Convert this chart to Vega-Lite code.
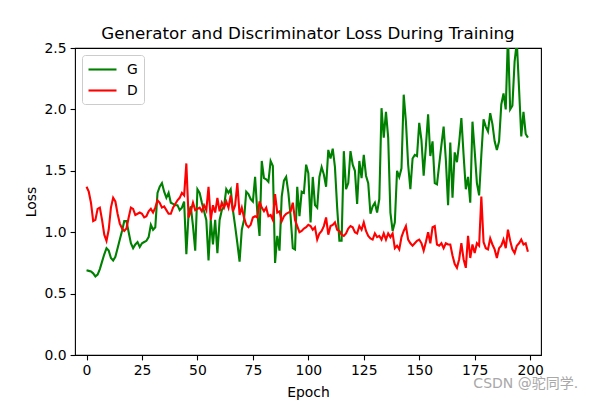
{
  "$schema": "https://vega.github.io/schema/vega-lite/v6.json",
  "autosize": {"type": "none"},
  "width": 466,
  "height": 307,
  "padding": {"left": 75, "top": 48, "right": 59, "bottom": 45},
  "background": "white",
  "title": {"text": "Generator and Discriminator Loss During Training", "font": "DejaVu Sans", "fontSize": 16.7, "fontWeight": "normal", "color": "black", "anchor": "middle", "offset": -2},
  "config": {
    "view": {"stroke": "black", "strokeWidth": 1.1},
    "axis": {"grid": false, "domain": false, "tickColor": "black", "tickSize": 4.9, "tickWidth": 1.1, "labelFont": "DejaVu Sans", "labelFontSize": 13.9, "labelColor": "black", "labelPadding": 4, "titleFont": "DejaVu Sans", "titleFontSize": 13.9, "titleFontWeight": "normal", "titleColor": "black"},
    "legend": {"orient": "top-left", "offset": 7, "padding": 6, "strokeColor": "#cccccc", "fillColor": "rgba(255,255,255,0.8)", "cornerRadius": 3, "symbolType": "M-2,0H2", "symbolSize": 196, "symbolOffset": 6, "symbolStrokeWidth": 2.1, "labelFont": "DejaVu Sans", "labelFontSize": 13.9, "labelColor": "black", "labelOffset": 16, "rowPadding": 5, "title": null}
  },
  "datasets": {"loss": [
{"epoch":0,"G":0.69,"D":1.37},{"epoch":1,"G":0.685,"D":1.33},{"epoch":2,"G":0.68,"D":1.24},{"epoch":3,"G":0.665,"D":1.09},{"epoch":4,"G":0.64,"D":1.10},
{"epoch":5,"G":0.655,"D":1.19},{"epoch":6,"G":0.70,"D":1.20},{"epoch":7,"G":0.76,"D":1.10},{"epoch":8,"G":0.82,"D":0.98},{"epoch":9,"G":0.87,"D":0.93},
{"epoch":10,"G":0.85,"D":1.02},{"epoch":11,"G":0.79,"D":1.20},{"epoch":12,"G":0.77,"D":1.28},{"epoch":13,"G":0.80,"D":1.25},{"epoch":14,"G":0.87,"D":1.15},
{"epoch":15,"G":0.94,"D":1.07},{"epoch":16,"G":1.01,"D":1.03},{"epoch":17,"G":1.09,"D":1.01},{"epoch":18,"G":1.09,"D":1.03},{"epoch":19,"G":1.00,"D":1.12},
{"epoch":20,"G":0.91,"D":1.20},{"epoch":21,"G":0.87,"D":1.19},{"epoch":22,"G":0.90,"D":1.14},{"epoch":23,"G":0.92,"D":1.15},{"epoch":24,"G":0.88,"D":1.16},
{"epoch":25,"G":0.91,"D":1.15},{"epoch":26,"G":0.92,"D":1.12},{"epoch":27,"G":0.93,"D":1.13},{"epoch":28,"G":0.96,"D":1.17},{"epoch":29,"G":1.06,"D":1.19},
{"epoch":30,"G":1.02,"D":1.16},{"epoch":31,"G":1.04,"D":1.20},{"epoch":32,"G":1.32,"D":1.26},{"epoch":33,"G":1.37,"D":1.24},{"epoch":34,"G":1.40,"D":1.20},
{"epoch":35,"G":1.33,"D":1.21},{"epoch":36,"G":1.28,"D":1.18},{"epoch":37,"G":1.32,"D":1.15},{"epoch":38,"G":1.24,"D":1.15},{"epoch":39,"G":1.23,"D":1.20},
{"epoch":40,"G":1.22,"D":1.23},{"epoch":41,"G":1.22,"D":1.26},{"epoch":42,"G":1.18,"D":1.28},{"epoch":43,"G":1.20,"D":1.32},{"epoch":44,"G":1.25,"D":1.30},
{"epoch":45,"G":0.82,"D":1.56},{"epoch":46,"G":1.15,"D":1.12},{"epoch":47,"G":1.21,"D":1.17},{"epoch":48,"G":1.05,"D":1.24},{"epoch":49,"G":0.85,"D":1.18},
{"epoch":50,"G":1.35,"D":1.19},{"epoch":51,"G":1.32,"D":1.20},{"epoch":52,"G":1.24,"D":1.17},{"epoch":53,"G":1.17,"D":1.22},{"epoch":54,"G":1.10,"D":1.18},
{"epoch":55,"G":0.77,"D":1.37},{"epoch":56,"G":1.10,"D":1.10},{"epoch":57,"G":0.90,"D":1.22},{"epoch":58,"G":1.10,"D":1.16},{"epoch":59,"G":0.83,"D":1.28},
{"epoch":60,"G":1.10,"D":1.17},{"epoch":61,"G":1.18,"D":1.24},{"epoch":62,"G":1.21,"D":1.20},{"epoch":63,"G":1.35,"D":1.25},{"epoch":64,"G":1.32,"D":1.20},
{"epoch":65,"G":1.35,"D":1.30},{"epoch":66,"G":1.18,"D":1.17},{"epoch":67,"G":1.05,"D":1.22},{"epoch":68,"G":0.91,"D":1.40},{"epoch":69,"G":0.76,"D":1.14},
{"epoch":70,"G":1.02,"D":1.20},{"epoch":71,"G":1.10,"D":1.12},{"epoch":72,"G":1.33,"D":1.06},{"epoch":73,"G":1.31,"D":1.04},{"epoch":74,"G":1.27,"D":1.06},
{"epoch":75,"G":1.25,"D":1.12},{"epoch":76,"G":1.45,"D":1.13},{"epoch":77,"G":1.16,"D":1.12},{"epoch":78,"G":0.97,"D":1.25},{"epoch":79,"G":1.58,"D":1.20},
{"epoch":80,"G":1.44,"D":1.17},{"epoch":81,"G":1.43,"D":1.20},{"epoch":82,"G":1.41,"D":1.13},{"epoch":83,"G":1.58,"D":1.14},{"epoch":84,"G":1.54,"D":1.10},
{"epoch":85,"G":0.75,"D":1.31},{"epoch":86,"G":0.97,"D":1.16},{"epoch":87,"G":0.85,"D":1.17},{"epoch":88,"G":1.29,"D":1.09},{"epoch":89,"G":1.42,"D":1.13},
{"epoch":90,"G":1.45,"D":1.15},{"epoch":91,"G":1.32,"D":1.16},{"epoch":92,"G":1.13,"D":1.17},{"epoch":93,"G":0.87,"D":1.24},{"epoch":94,"G":0.86,"D":1.10},
{"epoch":95,"G":1.37,"D":1.05},{"epoch":96,"G":1.13,"D":1.00},{"epoch":97,"G":1.33,"D":1.01},{"epoch":98,"G":1.32,"D":1.03},{"epoch":99,"G":1.55,"D":1.04},
{"epoch":100,"G":1.48,"D":1.06},{"epoch":101,"G":1.08,"D":1.05},{"epoch":102,"G":1.45,"D":1.02},{"epoch":103,"G":1.22,"D":1.04},{"epoch":104,"G":1.20,"D":0.94},
{"epoch":105,"G":1.45,"D":0.99},{"epoch":106,"G":1.53,"D":1.01},{"epoch":107,"G":1.47,"D":1.05},{"epoch":108,"G":1.37,"D":1.12},{"epoch":109,"G":1.67,"D":0.98},
{"epoch":110,"G":1.60,"D":1.05},{"epoch":111,"G":1.68,"D":1.06},{"epoch":112,"G":1.53,"D":1.08},{"epoch":113,"G":1.20,"D":1.02},{"epoch":114,"G":0.93,"D":1.01},
{"epoch":115,"G":0.93,"D":0.98},{"epoch":116,"G":1.66,"D":0.97},{"epoch":117,"G":1.35,"D":0.99},{"epoch":118,"G":1.40,"D":1.03},{"epoch":119,"G":1.66,"D":1.05},
{"epoch":120,"G":1.55,"D":1.04},{"epoch":121,"G":1.50,"D":1.00},{"epoch":122,"G":1.23,"D":0.99},{"epoch":123,"G":1.58,"D":1.05},{"epoch":124,"G":1.44,"D":1.02},
{"epoch":125,"G":1.63,"D":1.08},{"epoch":126,"G":1.46,"D":1.01},{"epoch":127,"G":1.40,"D":0.97},{"epoch":128,"G":1.15,"D":0.95},{"epoch":129,"G":1.21,"D":0.94},
{"epoch":130,"G":1.24,"D":0.99},{"epoch":131,"G":1.16,"D":0.96},{"epoch":132,"G":1.27,"D":0.97},{"epoch":133,"G":2.01,"D":0.94},{"epoch":134,"G":1.77,"D":0.99},
{"epoch":135,"G":1.98,"D":0.94},{"epoch":136,"G":1.77,"D":0.99},{"epoch":137,"G":1.16,"D":0.96},{"epoch":138,"G":1.01,"D":0.99},{"epoch":139,"G":1.08,"D":0.87},
{"epoch":140,"G":1.50,"D":0.89},{"epoch":141,"G":1.45,"D":0.86},{"epoch":142,"G":1.52,"D":0.96},{"epoch":143,"G":2.12,"D":1.01},{"epoch":144,"G":1.90,"D":1.05},
{"epoch":145,"G":1.55,"D":0.94},{"epoch":146,"G":1.35,"D":0.91},{"epoch":147,"G":1.60,"D":0.89},{"epoch":148,"G":1.63,"D":0.91},{"epoch":149,"G":1.62,"D":0.93},
{"epoch":150,"G":1.89,"D":0.94},{"epoch":151,"G":1.75,"D":0.91},{"epoch":152,"G":1.46,"D":0.85},{"epoch":153,"G":1.70,"D":0.92},{"epoch":154,"G":1.96,"D":1.00},
{"epoch":155,"G":1.62,"D":0.91},{"epoch":156,"G":1.74,"D":1.04},{"epoch":157,"G":1.40,"D":1.05},{"epoch":158,"G":1.39,"D":0.90},{"epoch":159,"G":1.55,"D":0.89},
{"epoch":160,"G":1.71,"D":0.91},{"epoch":161,"G":1.86,"D":0.87},{"epoch":162,"G":1.59,"D":0.91},{"epoch":163,"G":1.22,"D":0.90},{"epoch":164,"G":1.73,"D":0.90},
{"epoch":165,"G":1.28,"D":0.81},{"epoch":166,"G":1.65,"D":0.74},{"epoch":167,"G":1.57,"D":0.71},{"epoch":168,"G":1.73,"D":0.78},{"epoch":169,"G":1.93,"D":0.91},
{"epoch":170,"G":1.63,"D":0.78},{"epoch":171,"G":1.35,"D":0.71},{"epoch":172,"G":1.45,"D":0.97},{"epoch":173,"G":1.24,"D":0.79},{"epoch":174,"G":1.90,"D":0.90},
{"epoch":175,"G":1.66,"D":0.83},{"epoch":176,"G":1.40,"D":0.91},{"epoch":177,"G":1.30,"D":0.89},{"epoch":178,"G":1.63,"D":1.29},{"epoch":179,"G":1.92,"D":0.92},
{"epoch":180,"G":1.86,"D":0.87},{"epoch":181,"G":1.82,"D":0.86},{"epoch":182,"G":1.97,"D":0.95},{"epoch":183,"G":1.88,"D":0.90},{"epoch":184,"G":1.74,"D":0.86},
{"epoch":185,"G":1.67,"D":0.79},{"epoch":186,"G":1.74,"D":0.87},{"epoch":187,"G":2.04,"D":0.89},{"epoch":188,"G":2.13,"D":0.94},{"epoch":189,"G":2.00,"D":0.87},
{"epoch":190,"G":2.60,"D":1.02},{"epoch":191,"G":2.00,"D":0.93},{"epoch":192,"G":2.03,"D":0.86},{"epoch":193,"G":2.39,"D":0.83},{"epoch":194,"G":2.55,"D":0.89},
{"epoch":195,"G":2.17,"D":0.91},{"epoch":196,"G":1.78,"D":0.94},{"epoch":197,"G":1.98,"D":0.90},{"epoch":198,"G":1.80,"D":0.91},{"epoch":199,"G":1.77,"D":0.84}
  ],
  "mark": [{"label": "CSDN @驼同学."}]},
  "layer": [
    {"data": {"name": "loss"}, "transform": [{"fold": ["G", "D"], "as": ["series", "loss"]}, {"filter": "datum.series === 'G'"}],
     "mark": {"type": "line", "strokeWidth": 2.1, "clip": true},
     "encoding": {
       "x": {"field": "epoch", "type": "quantitative", "scale": {"domain": [-5.2, 204.9], "nice": false, "zero": false}, "axis": {"values": [0, 25, 50, 75, 100, 125, 150, 175, 200], "title": "Epoch", "titlePadding": 8}},
       "y": {"field": "loss", "type": "quantitative", "scale": {"domain": [0, 2.5], "nice": false}, "axis": {"values": [0, 0.5, 1, 1.5, 2, 2.5], "format": ".1f", "title": "Loss", "titlePadding": 6}},
       "color": {"field": "series", "type": "nominal", "scale": {"domain": ["G", "D"], "range": ["#008000", "#ff0000"]}, "legend": {"title": null}}
     }},
    {"data": {"name": "loss"}, "transform": [{"fold": ["G", "D"], "as": ["series", "loss"]}, {"filter": "datum.series === 'D'"}],
     "mark": {"type": "line", "strokeWidth": 2.1, "clip": true},
     "encoding": {
       "x": {"field": "epoch", "type": "quantitative"},
       "y": {"field": "loss", "type": "quantitative"},
       "color": {"field": "series", "type": "nominal"}
     }},
    {"data": {"name": "mark"},
     "mark": {"type": "text", "align": "left", "baseline": "middle", "font": "DejaVu Sans, Noto Sans CJK SC", "fontSize": 14, "clip": false},
     "encoding": {"x": {"datum": 174.4, "type": "quantitative"}, "y": {"datum": -0.24, "type": "quantitative"}, "text": {"field": "label", "type": "nominal"}, "color": {"value": "#a8a8a8"}}}
  ]
}
